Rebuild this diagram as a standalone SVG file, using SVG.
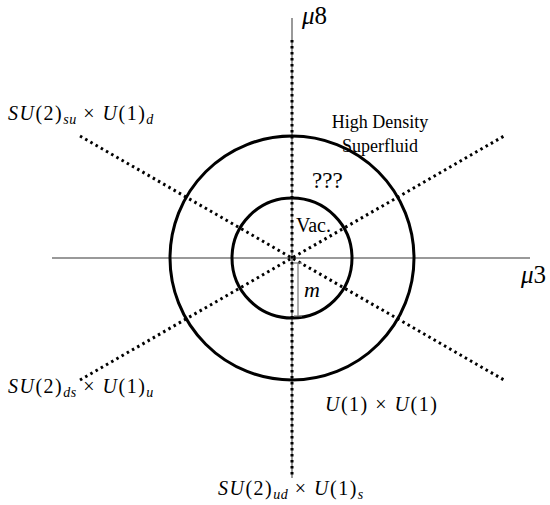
<svg xmlns="http://www.w3.org/2000/svg" width="550" height="505" viewBox="0 0 550 505">
<style>
.axis{stroke:#777;stroke-width:1.5;fill:none}
.dot{stroke:#000;stroke-width:3;stroke-dasharray:2.5 3.5;fill:none}
.circ{stroke:#000;stroke-width:3;fill:none}
.t{font-family:"Liberation Serif",serif;font-size:18px;fill:#000}
.m{font-family:"Liberation Serif",serif;font-style:italic;font-size:20px;letter-spacing:1.5px;fill:#000}
.sub{font-size:14px;letter-spacing:0.5px}
.up{font-style:normal}
</style>
<rect width="550" height="505" fill="#fff"/>
<g id="axes">
<line class="axis" x1="52" y1="258" x2="530" y2="258"/>
<line class="axis" x1="292" y1="18" x2="292" y2="478"/>
</g>
<g id="connectors">
<line class="dot" x1="292" y1="40" x2="292" y2="478"/>
<line class="dot" x1="80" y1="136" x2="504" y2="380"/>
<line class="dot" x1="80" y1="380" x2="504" y2="136"/>
</g>
<g id="outer"><circle class="circ" cx="292" cy="258" r="122"/></g>
<g id="inner"><circle class="circ" cx="292" cy="258" r="60"/></g>
<g id="mbar" stroke="#777" stroke-width="1.2">
<line x1="298" y1="263" x2="298" y2="316"/>
<line x1="294" y1="263" x2="302" y2="263"/>
<line x1="294" y1="316" x2="302" y2="316"/>
</g>
<g id="labels">
<text class="m" x="302" y="24" style="font-size:25px;letter-spacing:0">μ<tspan class="up">8</tspan></text>
<text class="m" x="521" y="283" style="font-size:25px;letter-spacing:0">μ<tspan class="up">3</tspan></text>
<text class="m" x="304" y="297" style="font-size:22px">m</text>
<text class="t" x="380" y="128" text-anchor="middle">High Density</text>
<text class="t" x="380" y="152" text-anchor="middle">Superfluid</text>
<text class="t" x="312" y="188" style="font-size:23px">???</text>
<text class="t" x="296" y="232" style="font-size:20px">Vac.</text>
<text class="m" x="8" y="120">SU<tspan class="up">(2)</tspan><tspan class="sub" dy="4">su</tspan><tspan class="up" dy="-4"> × </tspan>U<tspan class="up">(1)</tspan><tspan class="sub" dy="4">d</tspan></text>
<text class="m" x="8" y="393">SU<tspan class="up">(2)</tspan><tspan class="sub" dy="4">ds</tspan><tspan class="up" dy="-4"> × </tspan>U<tspan class="up">(1)</tspan><tspan class="sub" dy="4">u</tspan></text>
<text class="m" x="325" y="411">U<tspan class="up">(1) × </tspan>U<tspan class="up">(1)</tspan></text>
<text class="m" x="218" y="495">SU<tspan class="up">(2)</tspan><tspan class="sub" dy="4">ud</tspan><tspan class="up" dy="-4"> × </tspan>U<tspan class="up">(1)</tspan><tspan class="sub" dy="4">s</tspan></text>
</g>
</svg>
